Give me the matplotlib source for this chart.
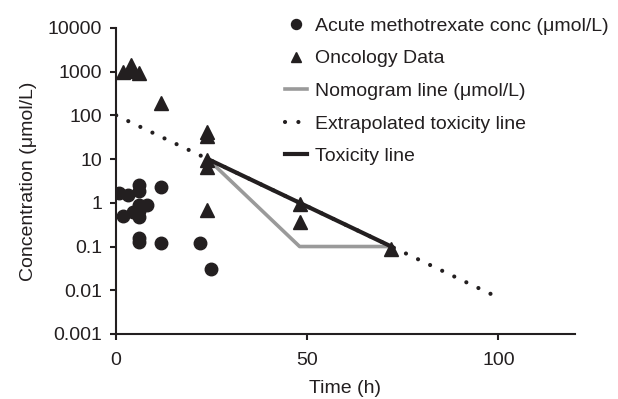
import numpy as np
import matplotlib
matplotlib.use("Agg")
import matplotlib.pyplot as plt

plt.rcParams['font.family'] = ['Liberation Sans', 'DejaVu Sans']

# Acute methotrexate concentrations (umol/L)
acute_t = [0.8, 3.2, 5.9, 5.9, 11.8, 1.9, 4.5, 5.9, 8.0, 5.9, 5.9, 5.9, 5.9, 11.8, 21.9, 24.9]
acute_c = [1.67, 1.48, 2.6, 1.9, 2.3, 0.51, 0.62, 0.87, 0.87, 0.47, 0.65, 0.16, 0.13, 0.12, 0.12, 0.03]

# Oncology data
onc_t = [1.7, 3.9, 5.9, 3.9, 11.8, 23.8, 23.8, 23.8, 23.8, 23.8, 48, 48, 72]
onc_c = [1000, 1400, 910, 1050, 190, 42, 33, 9.3, 6.6, 0.68, 0.95, 0.36, 0.09]

# Nomogram line
nomo_t = [24, 48, 72]
nomo_c = [10, 0.1, 0.1]

# Extrapolated toxicity line
ext_t = [0, 99]
ext_c = [100, 0.0075]

# Toxicity line
tox_t = [24, 48, 72]
tox_c = [10, 1, 0.1]

fs = 14
ink = '#231f20'

fig = plt.figure(figsize=(6.18, 3.99), dpi=100)
ax = fig.add_axes([0.188, 0.163, 0.742, 0.767])

ax.plot(acute_t, acute_c, 'o', color=ink, markersize=9, label='Acute methotrexate conc (\u03bcmol/L)', zorder=3)
ax.plot(onc_t, onc_c, '^', color=ink, markersize=9.5, label='Oncology Data', zorder=3)
ax.plot(nomo_t, nomo_c, '-', color='#9a9a9a', linewidth=2.6, label='Nomogram line (\u03bcmol/L)', zorder=2)
ax.plot(ext_t, ext_c, color=ink, linewidth=3, linestyle=(0, (0.01, 3.2)),
        dash_capstyle='round', label='Extrapolated toxicity line', zorder=2)
ax.plot(tox_t, tox_c, '-', color=ink, linewidth=3, label='Toxicity line', zorder=2)

ax.set_yscale('log')
ax.set_ylim(0.001, 10000)
ax.set_xlim(0, 120)
ax.set_xticks([0, 50, 100])
ax.set_yticks([0.001, 0.01, 0.1, 1, 10, 100, 1000, 10000])
ax.set_yticklabels(['0.001', '0.01', '0.1', '1', '10', '100', '1000', '10000'])
ax.yaxis.set_minor_locator(matplotlib.ticker.NullLocator())

for s in ['top', 'right']:
    ax.spines[s].set_visible(False)
for s in ['left', 'bottom']:
    ax.spines[s].set_linewidth(1.5)
    ax.spines[s].set_color(ink)
ax.tick_params(direction='out', length=4, width=1.5, color=ink, labelsize=fs, labelcolor=ink)
ax.tick_params(axis='y', pad=6)
ax.tick_params(axis='x', pad=9)

ax.set_xlabel('Time (h)', fontsize=fs, color=ink, labelpad=8)
ax.set_ylabel('Concentration (\u03bcmol/L)', fontsize=fs, color=ink, labelpad=8)

leg = ax.legend(loc='upper left', bbox_to_anchor=(0.461, 0.957), bbox_transform=fig.transFigure,
                frameon=False, fontsize=fs, handlelength=1.13, handletextpad=0.4,
                labelspacing=0.77, borderaxespad=0, borderpad=0, markerscale=0.8)
for t in leg.get_texts():
    t.set_color(ink)

fig.savefig('out.png', dpi=100)
